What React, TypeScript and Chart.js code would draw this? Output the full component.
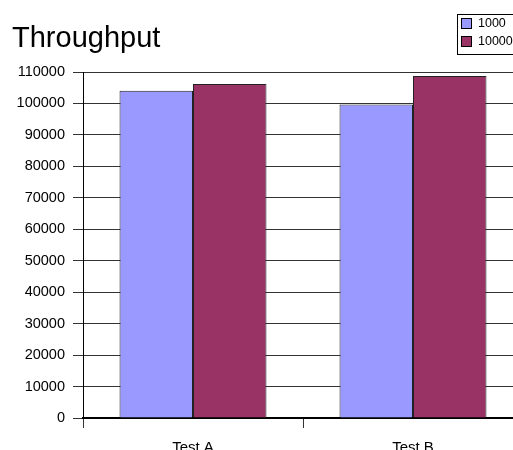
import React, { useEffect, useRef } from "react";
import { Chart, registerables } from "chart.js";

Chart.register(...registerables);

// Chart content
const chartTitle = "Throughput";
const categories = ["Test A", "Test B"];
const seriesLabels = ["1000", "10000"];
const series1000 = [104000, 99700];
const series10000 = [106200, 108700];
const seriesColors = ["#9999FF", "#993366"];
const yMin = 0;
const yMax = 110000;
const yStep = 10000;

const FONT = "'Liberation Sans', Arial, Helvetica, sans-serif";

// Title in the top-left and a boxed legend in the top-right corner
const decorPlugin = {
  id: "decor",
  afterDraw(chart: any) {
    const ctx = chart.ctx as CanvasRenderingContext2D;
    ctx.save();
    ctx.fillStyle = "#000";
    ctx.font = `29px ${FONT}`;
    ctx.textAlign = "left";
    ctx.textBaseline = "alphabetic";
    ctx.fillText(chartTitle, 12, 47);

    ctx.fillStyle = "#fff";
    ctx.fillRect(457, 14, 80, 40);
    ctx.strokeStyle = "#000";
    ctx.lineWidth = 1;
    ctx.strokeRect(457.5, 14.5, 80, 40);

    chart.data.datasets.forEach((ds: any, i: number) => {
      const y = 18 + i * 18;
      ctx.fillStyle = ds.backgroundColor;
      ctx.fillRect(461, y, 11, 11);
      ctx.strokeStyle = "#000";
      ctx.strokeRect(461.5, y + 0.5, 10, 10);
      ctx.fillStyle = "#000";
      ctx.font = `12.5px ${FONT}`;
      ctx.textBaseline = "middle";
      ctx.fillText(ds.label, 478, y + 6);
    });
    ctx.restore();
  },
};

export default function App() {
  const canvasRef = useRef<HTMLCanvasElement | null>(null);

  useEffect(() => {
    if (!canvasRef.current) return;
    const chart = new Chart(canvasRef.current, {
      type: "bar",
      data: {
        labels: categories,
        datasets: [
          {
            label: seriesLabels[0],
            data: series1000,
            backgroundColor: seriesColors[0],
            borderColor: "#222",
            borderWidth: 1,
          },
          {
            label: seriesLabels[1],
            data: series10000,
            backgroundColor: seriesColors[1],
            borderColor: "#222",
            borderWidth: 1,
          },
        ],
      },
      options: {
        responsive: false,
        animation: false,
        devicePixelRatio: 1,
        layout: { padding: { top: 72, right: 17, bottom: 0, left: 0 } },
        datasets: {
          bar: { categoryPercentage: 0.668, barPercentage: 1 },
        },
        plugins: {
          legend: { display: false },
          title: { display: false },
          tooltip: { enabled: false },
        },
        scales: {
          x: {
            type: "category",
            offset: true,
            grid: {
              offset: true,
              drawOnChartArea: false,
              drawTicks: true,
              tickLength: 10,
              tickColor: "#333",
            },
            border: { display: true, color: "#000", width: 2 },
            ticks: {
              color: "#000",
              font: { family: FONT, size: 15 },
              padding: 11,
              maxRotation: 0,
            },
            afterFit: (s: any) => {
              s.height = 32;
            },
          },
          y: {
            min: yMin,
            max: yMax,
            grid: {
              color: "#333",
              lineWidth: 1,
              drawTicks: true,
              tickLength: 10,
              tickColor: "#333",
            },
            border: { display: true, color: "#000", width: 1 },
            ticks: {
              stepSize: yStep,
              color: "#000",
              font: { family: FONT, size: 14.5 },
              padding: 8,
              callback: (v: any) => String(v),
            },
            afterFit: (s: any) => {
              s.width = 83;
            },
          },
        },
      },
      plugins: [decorPlugin],
    });
    return () => chart.destroy();
  }, []);

  return (
    <div
      style={{
        position: "absolute",
        left: 0,
        top: 0,
        width: 513,
        height: 450,
        overflow: "hidden",
        background: "#fff",
      }}
    >
      <canvas ref={canvasRef} width={540} height={450} style={{ display: "block" }} />
    </div>
  );
}
